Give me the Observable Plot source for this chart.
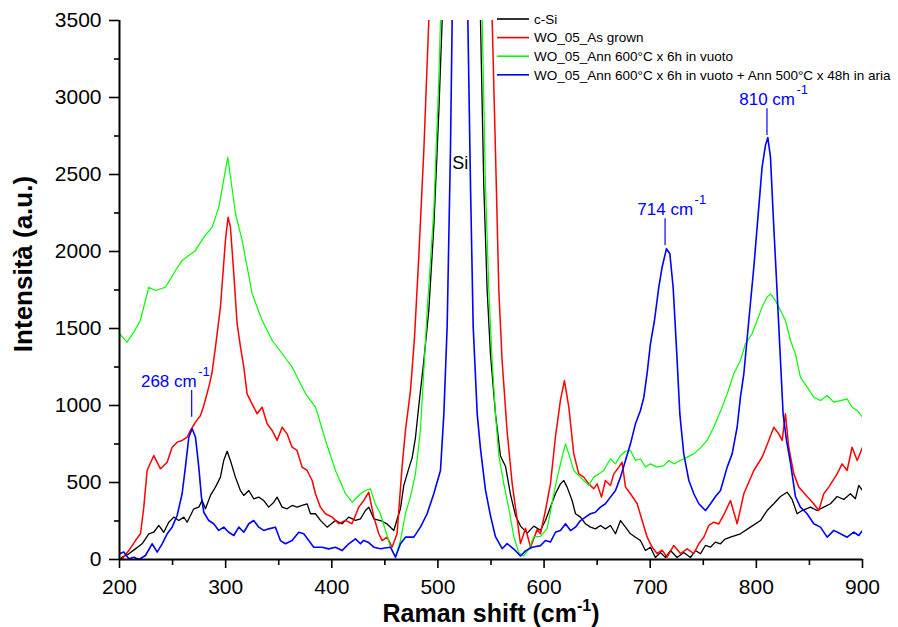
<!DOCTYPE html>
<html>
<head>
<meta charset="utf-8">
<script src="https://cdn.jsdelivr.net/npm/d3@7"></script>
<script src="https://cdn.jsdelivr.net/npm/@observablehq/plot@0.6"></script>
<style>
  body { margin: 0; background: #fff; }
  #chart svg { display: block; }
</style>
</head>
<body>
<div id="chart"></div>
<script>
// ---------- data ----------
const csiX = [200,202.5,208.8,215,221.3,227.6,232.3,237,241.7,246.4,251.2,255.9,260.6,263.7,270,274.7,277.8,281,285.7,290.4,295.1,298.2,301.4,304.5,309.2,313.9,317.1,321.8,326.5,331.2,335.9,340.6,345.4,348.5,353.2,357.9,362.6,367.3,372,376.8,379.9,384.6,389.3,395.6,403.4,409.7,416,422.3,427,431.7,434.9,439.6,445.8,452.1,458.4,461.5,464.7,467.8,472.5,475.7,478.8,482,486.7,491.4,496.1,500.9,504,512,520,532,540.1,543.2,546.4,549.5,554.2,558.9,563.7,568.4,573.1,577.8,584.1,590.3,596.6,601.3,606,610.7,615.4,618.6,621.7,626.4,629.6,634.3,639,643.7,648.4,653.1,657.8,662.5,667.3,672,676.7,681.4,686.1,690.8,695.5,700.2,704.9,709.6,714.4,719.1,725.3,731.6,737.9,742.6,747.3,752,756.7,761.4,766.2,770,775.6,785,794.4,803.9,810.1,816.4,822.7,829,833.7,838.4,843.1,851,857.2,863.5,869.8,876.1,882.3,888.6,893.3,896.5,900];
const csiY = [0,15,37,69,102,167,177,221,177,242,275,253,275,242,329,340,383,329,416,470,535,643,703,643,535,448,416,448,394,405,383,340,372,405,340,329,351,340,351,361,297,297,254,210,254,232,275,254,264,318,340,264,253,231,188,260,330,480,590,660,790,1000,1292,1617,2158,2916,3500,20000,40000,20000,3500,2426,1743,1333,946,672,604,421,285,217,171,217,190,253,340,427,491,513,470,383,297,275,232,210,199,221,199,221,167,253,210,167,145,123,58,80,13,45,13,58,13,45,13,58,37,91,80,113,102,130,145,167,210,253,318,362,409,437,390,297,318,340,318,340,362,409,390,427,395,481,448];

const grownX = [200,202.5,208.8,215,219.8,222.9,226,232.3,238.6,244.9,249.6,254.3,259,263.7,266.9,271.6,276.3,279.4,284.1,287,290.4,295.1,299.8,302.3,304.5,307.7,310.8,314,317.1,320.2,324.9,329.7,334.4,339.1,343.8,348.5,353.2,357.9,362.6,367.3,372,376.8,381.5,384.6,389.3,394,400.3,406.6,412.9,419.1,425.4,430.1,434.8,439.6,444.3,447.4,452.1,456.8,461.5,466.2,469.4,474.2,478,482,486.7,491.4,500,520,540,551.1,554.2,557.4,560.5,565.2,570,574.6,577.8,582.5,587.2,593.5,596.6,601.3,606,610.7,615.4,619.2,623.3,628,632.7,637.4,642.1,646.8,650,654.1,657.8,662.5,665.7,670.4,673.5,676.7,681.4,687.7,692.4,697.1,701.8,706.5,711.2,715.9,722.2,728.5,734.8,741,745.8,750.5,755.2,759.9,764.6,770,775.6,781.9,788.2,797.6,805.4,811.7,816.4,821.1,824.3,827.4,830.5,835.3,840,847.8,854.1,858.8,863.5,868.2,876.1,880.8,885.5,890.2,895,900];
const grownY = [0,5,58,123,167,340,578,675,589,632,729,762,773,794,838,892,935,1000,1119,1206,1379,1639,2072,2223,2158,1855,1531,1379,1249,1076,1011,946,989,881,838,773,859,816,729,708,600,578,513,427,340,297,275,232,254,232,340,383,437,275,167,123,145,80,167,600,838,1100,1450,1970,2654,3500,20000,60000,20000,3500,2654,1743,1287,831,490,262,103,203,80,194,167,318,491,794,1033,1162,989,686,556,535,491,459,491,405,513,481,556,600,632,470,427,362,253,145,80,39,61,15,91,39,69,39,102,145,221,242,231,300,383,232,427,578,664,773,859,816,773,946,729,556,470,409,362,318,427,470,556,621,578,729,643,729];

const vacuumX = [200,207,213.5,219.6,227.6,233.9,243.3,252.8,259,271.6,279.5,287.3,293.6,302,309.3,315.6,325,334.4,343.9,353.3,362.7,375.3,384.7,394.1,403.5,412.9,419.2,427,431.7,436.4,441,445.8,450.6,455.3,460,464.7,469.4,474,478.8,483.5,489.9,496.1,500.9,502.4,510,520,532,541.7,544.8,548,551.1,554.2,557.4,562.1,566.8,571.5,576.2,580.9,585.6,590.3,596.6,602.9,609.2,613.9,618.6,620.2,623.3,628,632.7,637.4,642.1,646.8,651.6,656.3,662.5,667.3,672,676.7,681.4,686.1,690.8,695.5,700.2,706.5,712.8,717.5,722.2,728.5,734.8,741,747.3,753.6,759.9,766.2,772.5,778.7,785,789.7,796,800.7,805.4,810.1,813.3,818,822.7,827.4,832.1,836.8,841.5,847.8,854.1,860.4,866.7,872.9,879.2,885.5,890.2,895,900];
const vacuumY = [1466,1411,1476,1552,1768,1747,1768,1877,1942,2007,2093,2158,2288,2613,2245,2071,1725,1552,1422,1336,1249,1076,989,773,578,427,372,427,448,459,361,297,188,80,19,123,297,405,556,838,1617,2266,3132,3500,20000,40000,20000,3500,2426,1743,1287,946,672,490,331,148,45,23,68,148,150,200,427,578,708,751,686,578,545,513,481,535,556,578,654,621,675,703,708,643,654,600,621,600,610,643,621,643,665,686,725,773,859,962,1076,1206,1292,1401,1466,1552,1639,1704,1725,1681,1617,1552,1422,1336,1184,1119,1054,1032,1065,1022,1032,1043,989,968,924];

const airX = [200,204,208.8,213.5,218.2,224.5,230.7,235.5,240.2,244.9,249.6,254.3,259,262.1,265.3,268.4,271.6,274.7,277.2,279.4,284.1,288.8,293.5,298.2,302.9,307.7,312.4,317.1,321.8,326.5,331.2,335.9,340.6,346.9,351.6,356.3,362.6,368.9,373.6,378.3,383,390.9,397.2,403.4,409.7,416,422.3,427,430,434.8,439.6,445.8,450,455.3,460,464.7,469.4,477.3,483.5,489.8,496.1,502.4,505.6,508.7,511.8,513.4,518,524,528.2,530.7,533.2,537,540.1,544.8,549.5,554.2,560.5,565.2,571.5,577.8,582.5,588.8,596.6,601.3,606,610.7,615.4,620.2,624.9,629.6,634.3,639,643.7,648.4,653.1,657.8,662.5,667.3,672,676.7,681.4,686.1,690.8,694,697.1,700.2,704,708.1,711.2,715.3,718.5,721.6,724.7,727.9,731.6,736.4,741.1,745.8,752.1,756.8,761.5,766.2,772.5,777.2,781.9,785,788.2,792.9,797.6,802.3,805.4,808.6,810.8,813.3,815.8,819,822.1,825.2,828.4,832.1,836.8,841.5,847.8,854.1,860.4,866.7,873,879.2,885.5,891.8,896.5,900];
const airY = [37,48,5,15,0,26,102,48,102,167,210,286,427,600,794,849,794,600,405,307,253,232,189,210,177,156,210,177,232,253,210,189,199,210,123,102,123,177,167,123,80,80,69,80,58,102,134,102,124,110,80,70,75,80,15,102,145,145,210,297,427,578,946,1515,2654,3500,30000,30000,3500,2426,1515,946,718,450,285,148,70,103,68,23,56,80,90,123,113,177,188,232,188,210,253,275,297,307,340,362,405,448,535,643,751,881,968,1054,1210,1400,1552,1768,1898,2018,1985,1768,1379,946,686,513,427,362,318,362,409,448,600,686,859,1054,1206,1552,1898,2288,2548,2689,2740,2613,2245,1812,1379,946,773,629,409,340,297,232,210,145,189,167,145,178,156,189];

const seriesNames = ["c-Si", "WO_05_As grown", "WO_05_Ann 600°C x 6h in vuoto", "WO_05_Ann 600°C x 6h in vuoto + Ann 500°C x 48h in aria"];
const seriesX = [csiX, grownX, vacuumX, airX];
const seriesY = [csiY, grownY, vacuumY, airY];

const xTicks = [200, 300, 400, 500, 600, 700, 800, 900];
const xMinorTicks = [250, 350, 450, 550, 650, 750, 850];
const yTicks = [0, 500, 1000, 1500, 2000, 2500, 3000, 3500];
const yMinorTicks = [250, 750, 1250, 1750, 2250, 2750, 3250];

// peak annotations (blue curve)
const peakX = [268, 714, 810];
const peakLabels = ["268 cm", "714 cm", "810 cm"];
const peakLineLow = [924, 2039, 2753];
const peakLineHigh = [1097, 2212, 2927];
const siLabel = {x: 521, y: 2574, text: "Si"};

// ---------- styles ----------
const colors = ["#000000", "#ff0000", "#00ff00", "#0000ff"];
const widths = [1.3, 1.5, 1.2, 1.6];
const labelShift = [5, 28, 28];
const FONT = "'Liberation Sans', Arial, Helvetica, sans-serif";

const rows = seriesNames.map((name, i) =>
  seriesX[i].map((x, j) => ({x, y: seriesY[i][j], s: name})));

const peaks = peakX.map((x, i) => ({x, lo: peakLineLow[i], hi: peakLineHigh[i], label: peakLabels[i], shift: labelShift[i]}));

const W = 898, H = 627;
const plot = Plot.plot({
  width: W,
  height: H,
  marginLeft: 119,
  marginRight: 36,
  marginTop: 20,
  marginBottom: 68,
  style: {fontFamily: FONT, background: "#fff", color: "#000"},
  x: {domain: [200, 900]},
  y: {domain: [0, 3500]},
  marks: [
    ...rows.map((data, i) => Plot.line(data, {x: "x", y: "y", stroke: colors[i], strokeWidth: widths[i], clip: true})),
    Plot.ruleX(peaks, {x: "x", y1: "lo", y2: "hi", stroke: "#0000ff", strokeWidth: 1.2}),
    ...peaks.map(p => Plot.text([p], {x: "x", y: "hi", text: "label", textAnchor: "end", dx: p.shift, dy: -9, fill: "#0000ff", fontSize: 17})),
    ...peaks.map(p => Plot.text([p], {x: "x", y: "hi", text: () => "-1", textAnchor: "start", dx: p.shift + 1.5, dy: -19, fill: "#0000ff", fontSize: 13})),
    Plot.text([siLabel], {x: "x", y: "y", text: "text", fill: "#000", fontSize: 18}),
    Plot.axisX({ticks: xTicks, tickSize: 9, tickPadding: 11, fontSize: 21, tickFormat: d => String(d), label: null, strokeWidth: 1.6}),
    Plot.axisX({ticks: xMinorTicks, tickSize: 6, tickFormat: () => "", label: null, strokeWidth: 1.6}),
    Plot.axisY({ticks: yTicks, tickSize: 10, tickPadding: 8, fontSize: 21, tickFormat: d => String(d), label: null, strokeWidth: 1.6}),
    Plot.axisY({ticks: yMinorTicks, tickSize: 5, tickFormat: () => "", label: null, strokeWidth: 1.6}),
    Plot.ruleX([200], {strokeWidth: 2}),
    Plot.ruleY([0], {strokeWidth: 2})
  ]
});

const svg = d3.select(plot);

// axis titles
const xt = svg.append("text")
  .attr("x", 491).attr("y", 622)
  .attr("text-anchor", "middle")
  .attr("font-family", FONT).attr("font-weight", "bold").attr("font-size", 25).attr("fill", "#000");
xt.append("tspan").text("Raman shift (cm");
xt.append("tspan").attr("font-size", 16).attr("dy", -11).text("-1");
xt.append("tspan").attr("dy", 11).text(")");

svg.append("text")
  .attr("transform", "translate(32,264) rotate(-90)")
  .attr("text-anchor", "middle")
  .attr("font-family", FONT).attr("font-weight", "bold").attr("font-size", 26).attr("fill", "#000")
  .text("Intensità (a.u.)");

// legend
const lg = svg.append("g").attr("font-family", FONT).attr("font-size", 13.5).attr("text-anchor", "start");
seriesNames.forEach((name, i) => {
  const yy = 19 + i * 18.6;
  lg.append("line").attr("x1", 497).attr("x2", 529).attr("y1", yy).attr("y2", yy)
    .attr("stroke", colors[i]).attr("stroke-width", 1.6);
  lg.append("text").attr("x", 534).attr("y", yy).attr("dy", "0.35em").attr("fill", "#000")
    .attr("text-anchor", "start").text(name);
});

document.getElementById("chart").appendChild(plot);
</script>
</body>
</html>
